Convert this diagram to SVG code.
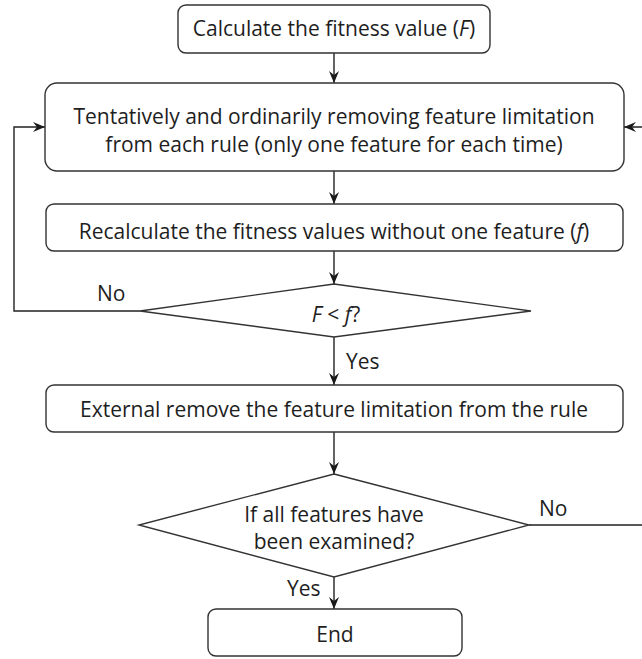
<svg xmlns="http://www.w3.org/2000/svg" width="642" height="659" viewBox="0 0 642 659">
<defs>
<marker id="arr" viewBox="0 0 12 10" refX="12" refY="5" markerWidth="12" markerHeight="10" markerUnits="userSpaceOnUse" orient="auto">
<path d="M0,0 L12,5 L0,10 L4,5 z" fill="#1a1a1a"/>
</marker>
<style>
.box{fill:#fff;stroke:#333;stroke-width:1.4}
.t{font-family:"Open Sans","Noto Sans",sans-serif;font-size:21px;fill:#1e1e1e;text-anchor:middle}
.l{font-family:"Open Sans","Noto Sans",sans-serif;font-size:21px;fill:#1e1e1e}
.c{fill:none;stroke:#222;stroke-width:1.4;marker-end:url(#arr)}
.i{font-style:italic}
</style>
</defs>
<rect width="642" height="659" fill="#fff"/>
<g id="connectors">
<path class="c" d="M334,53 V83"/>
<path class="c" d="M334,171 V204"/>
<path class="c" d="M334,251 V284"/>
<path class="c" d="M334,337 V385"/>
<path class="c" d="M334,432 V474"/>
<path class="c" d="M334,577 V609"/>
<path class="c" d="M140,311 H14 V127 H45"/>
<path class="c" d="M529,525 H660 V127 H624"/>
<text class="l" x="97" y="301">No</text>
<text class="l" x="346" y="369">Yes</text>
<text class="l" x="539" y="516">No</text>
<text class="l" x="287" y="596">Yes</text>
</g>
<g id="n-calc">
<rect class="box" x="178" y="5" width="312" height="48" rx="8"/>
<text class="t" x="334" y="36">Calculate the fitness value (<tspan class="i">F</tspan>)</text>
</g>
<g id="n-remove">
<rect class="box" x="45" y="83" width="579" height="88" rx="12"/>
<text class="t" x="334" y="124">Tentatively and ordinarily removing feature limitation</text>
<text class="t" x="334" y="152">from each rule (only one feature for each time)</text>
</g>
<g id="n-recalc">
<rect class="box" x="46" y="204" width="577" height="47" rx="8"/>
<text class="t" x="334" y="239">Recalculate the fitness values without one feature (<tspan class="i">f</tspan>)</text>
</g>
<g id="n-cmp">
<path class="box" d="M334,284 L531,311 L334,337 L140,311 Z"/>
<text class="t" x="336" y="322"><tspan class="i">F</tspan> &lt; <tspan class="i">f</tspan>?</text>
</g>
<g id="n-ext">
<rect class="box" x="46" y="385" width="577" height="47" rx="8"/>
<text class="t" x="334" y="417">External remove the feature limitation from the rule</text>
</g>
<g id="n-all">
<path class="box" d="M334,474 L529,525 L334,577 L139,525 Z"/>
<text class="t" x="334" y="522">If all features have</text>
<text class="t" x="334" y="549">been examined?</text>
</g>
<g id="n-end">
<rect class="box" x="208" y="609" width="254" height="47" rx="8"/>
<text class="t" x="335" y="642">End</text>
</g>
</svg>
